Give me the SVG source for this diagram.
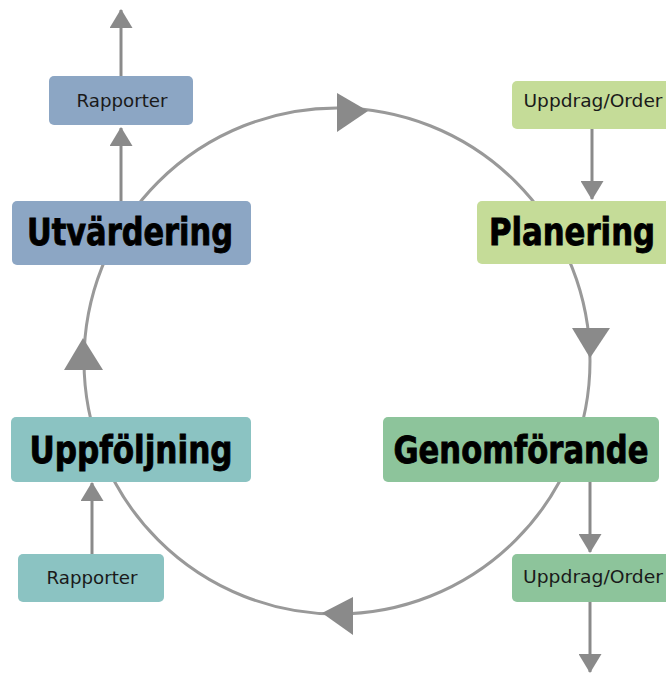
<svg xmlns="http://www.w3.org/2000/svg" width="666" height="673" viewBox="0 0 666 673">
<defs>
<marker id="ah" markerUnits="userSpaceOnUse" markerWidth="19" markerHeight="23" refX="18" refY="11.5" orient="auto">
<path d="M0,0 L19,11.5 L0,23 z" fill="#8a8a8a"/>
</marker>
<style>
.link{stroke:#8a8a8a;stroke-width:3;fill:none}
.ring{stroke:#999;stroke-width:3;fill:none}
.head{fill:#8a8a8a}
.big{font-family:"DejaVu Sans Condensed","Liberation Sans",sans-serif;font-weight:bold;font-size:37px;fill:#000;stroke:#000;stroke-width:0.8;text-anchor:middle}
.small{font-family:"DejaVu Sans Condensed","Liberation Sans",sans-serif;font-size:18px;fill:#1a1a1a;text-anchor:middle}
.blue{fill:#8ca6c4}
.lgreen{fill:#c5dc98}
.green{fill:#8dc49b}
.teal{fill:#8bc3c2}
</style>
</defs>
<rect width="666" height="673" fill="#fff"/>
<g id="connectors">
<circle class="ring" cx="337" cy="361" r="253"/>
<polygon class="head" points="337,93 368,111 337,132"/>
<polygon class="head" points="572,328 610,328 590,358"/>
<polygon class="head" points="353,597 322,613 353,635"/>
<polygon class="head" points="64,370 103,370 83,338"/>
<line class="link" x1="121" y1="76" x2="121" y2="10" marker-end="url(#ah)"/>
<line class="link" x1="121" y1="201" x2="121" y2="128" marker-end="url(#ah)"/>
<line class="link" x1="592" y1="129" x2="592" y2="199" marker-end="url(#ah)"/>
<line class="link" x1="590" y1="482" x2="590" y2="552" marker-end="url(#ah)"/>
<line class="link" x1="590" y1="602" x2="590" y2="672" marker-end="url(#ah)"/>
<line class="link" x1="92" y1="554" x2="92" y2="483" marker-end="url(#ah)"/>
</g>
<g id="rapporter-top">
<rect class="blue" x="49" y="76" width="144" height="49" rx="5"/>
<text class="small" x="122" y="107" textLength="91" lengthAdjust="spacingAndGlyphs">Rapporter</text>
</g>
<g id="utvardering">
<rect class="blue" x="12" y="201" width="239" height="64" rx="5"/>
<text class="big" x="130" y="245" textLength="206" lengthAdjust="spacingAndGlyphs">Utvärdering</text>
</g>
<g id="uppdrag-top">
<rect class="lgreen" x="512" y="81" width="160" height="48" rx="5"/>
<text class="small" x="593" y="107" textLength="139" lengthAdjust="spacingAndGlyphs">Uppdrag/Order</text>
</g>
<g id="planering">
<rect class="lgreen" x="477" y="201" width="195" height="63" rx="5"/>
<text class="big" x="572" y="245" textLength="166" lengthAdjust="spacingAndGlyphs">Planering</text>
</g>
<g id="genomforande">
<rect class="green" x="383" y="417" width="276" height="65" rx="5"/>
<text class="big" x="521" y="463" textLength="255" lengthAdjust="spacingAndGlyphs">Genomförande</text>
</g>
<g id="uppdrag-bottom">
<rect class="green" x="512" y="554" width="160" height="48" rx="5"/>
<text class="small" x="593" y="583" textLength="140" lengthAdjust="spacingAndGlyphs">Uppdrag/Order</text>
</g>
<g id="uppfoljning">
<rect class="teal" x="11" y="417" width="240" height="65" rx="5"/>
<text class="big" x="131" y="463" textLength="203" lengthAdjust="spacingAndGlyphs">Uppföljning</text>
</g>
<g id="rapporter-bottom">
<rect class="teal" x="18" y="554" width="146" height="48" rx="5"/>
<text class="small" x="92" y="584" textLength="91" lengthAdjust="spacingAndGlyphs">Rapporter</text>
</g>
</svg>
